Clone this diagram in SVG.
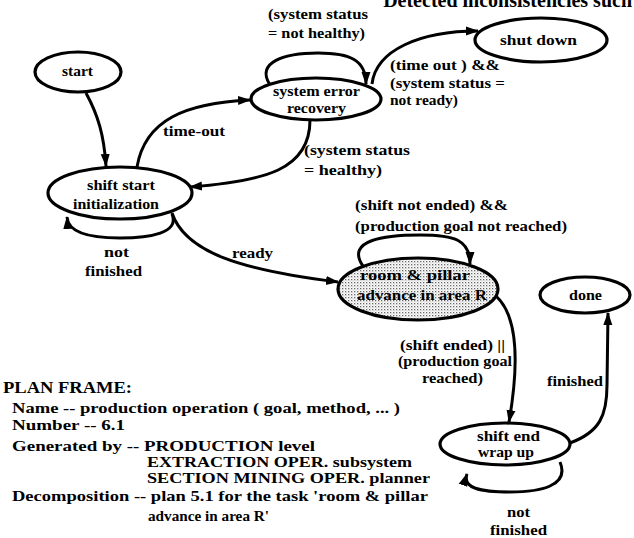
<svg xmlns="http://www.w3.org/2000/svg" width="634" height="538" viewBox="0 0 634 538" font-family="'Liberation Serif', 'DejaVu Serif', serif" font-weight="bold">
  <defs>
    <marker id="arrow" markerUnits="userSpaceOnUse" markerWidth="13" markerHeight="10" refX="12" refY="5" orient="auto">
      <path d="M0,0.5 L13,5 L0,9.5 z" fill="#000"/>
    </marker>
    <pattern id="stipple" width="3" height="3" patternUnits="userSpaceOnUse">
      <rect width="3" height="3" fill="#fff"/>
      <rect x="0" y="0" width="1.3" height="1.3" fill="#666"/>
      <rect x="1.5" y="1.5" width="1" height="1" fill="#aaa"/>
    </pattern>
    <style>
      text { font-family: 'Liberation Serif', 'DejaVu Serif', serif; font-weight: bold; fill: #000; }
      .lbl { font-size: 15.5px; }
      .state { fill: #fff; stroke: #000; stroke-width: 3.2; }
      .edge { fill: none; stroke: #000; stroke-width: 3; marker-end: url(#arrow); }
      .frame { font-size: 14.5px; }
    </style>
  </defs>

  <rect width="634" height="538" fill="#fff"/>

  <!-- running header line, cut off by the top edge -->
  <text x="632" y="7" font-size="20" text-anchor="end">Detected inconsistencies such</text>

  <!-- transitions -->
  <g id="connectors">
    <path class="edge" d="M86,93 C98,115 104,135 106,166"/>
    <path class="edge" d="M137,167 C145,120 185,103 250,100"/>
    <path class="edge" d="M310,120 C310,170 265,181 190,187"/>
    <path class="edge" d="M270,85 C255,62 285,53 318,53 C350,53 366,60 366,84"/>
    <path class="edge" d="M372,84 C376,50 420,31 478,31"/>
    <path class="edge" d="M172,214 C180,233 150,238 120,238 C90,238 68,233 67,217"/>
    <path class="edge" d="M172,213 C185,252 240,270 338,282"/>
    <path class="edge" d="M363,266 C345,240 385,235 420,235 C455,235 470,240 470,264"/>
    <path class="edge" d="M496,296 C520,318 518,370 509,422"/>
    <path class="edge" d="M560,462 C570,486 540,492 510,492 C480,492 462,488 467,474"/>
    <path class="edge" d="M570,443 C600,432 607,415 607,385 L608,313"/>
  </g>

  <!-- transition labels -->
  <g id="edge-labels" class="lbl">
    <text x="163" y="136" textLength="62" lengthAdjust="spacingAndGlyphs">time-out</text>
    <text x="268" y="19" textLength="100" lengthAdjust="spacingAndGlyphs">(system status</text>
    <text x="268" y="38" textLength="97" lengthAdjust="spacingAndGlyphs">= not healthy)</text>
    <text x="390" y="70" textLength="110" lengthAdjust="spacingAndGlyphs">(time out ) &amp;&amp;</text>
    <text x="390" y="88" textLength="115" lengthAdjust="spacingAndGlyphs">(system status =</text>
    <text x="390" y="105" textLength="68" lengthAdjust="spacingAndGlyphs">not ready)</text>
    <text x="304" y="155" textLength="106" lengthAdjust="spacingAndGlyphs">(system status</text>
    <text x="304" y="175" textLength="78" lengthAdjust="spacingAndGlyphs">= healthy)</text>
    <text x="104" y="257" textLength="25" lengthAdjust="spacingAndGlyphs">not</text>
    <text x="85" y="276" textLength="57" lengthAdjust="spacingAndGlyphs">finished</text>
    <text x="232" y="258" textLength="41" lengthAdjust="spacingAndGlyphs">ready</text>
    <text x="355" y="210" textLength="153" lengthAdjust="spacingAndGlyphs">(shift not ended) &amp;&amp;</text>
    <text x="355" y="231" textLength="212" lengthAdjust="spacingAndGlyphs">(production goal not reached)</text>
    <text x="400" y="350" textLength="105" lengthAdjust="spacingAndGlyphs">(shift ended) ||</text>
    <text x="398" y="366" textLength="114" lengthAdjust="spacingAndGlyphs">(production goal</text>
    <text x="422" y="383" textLength="61" lengthAdjust="spacingAndGlyphs">reached)</text>
    <text x="547" y="386" textLength="56" lengthAdjust="spacingAndGlyphs">finished</text>
    <text x="507" y="517" textLength="23" lengthAdjust="spacingAndGlyphs">not</text>
    <text x="490" y="535" textLength="57" lengthAdjust="spacingAndGlyphs">finished</text>
  </g>

  <!-- states -->
  <g id="start" class="lbl">
    <ellipse class="state" cx="78" cy="72" rx="43" ry="20"/>
    <text x="62" y="76" textLength="31" lengthAdjust="spacingAndGlyphs">start</text>
  </g>
  <g id="system-error-recovery" class="lbl">
    <ellipse class="state" cx="316" cy="99" rx="65" ry="21"/>
    <text x="273" y="96" textLength="87" lengthAdjust="spacingAndGlyphs">system error</text>
    <text x="287" y="113" textLength="59" lengthAdjust="spacingAndGlyphs">recovery</text>
  </g>
  <g id="shut-down" class="lbl">
    <ellipse class="state" cx="541" cy="40" rx="66" ry="22"/>
    <text x="500" y="45" textLength="77" lengthAdjust="spacingAndGlyphs">shut down</text>
  </g>
  <g id="shift-start-initialization" class="lbl">
    <ellipse class="state" cx="120" cy="193" rx="72" ry="26"/>
    <text x="87" y="190" textLength="68" lengthAdjust="spacingAndGlyphs">shift start</text>
    <text x="73" y="209" textLength="86" lengthAdjust="spacingAndGlyphs">initialization</text>
  </g>
  <g id="room-and-pillar" class="lbl">
    <ellipse class="state" cx="418" cy="289" rx="80" ry="31" style="fill:url(#stipple)"/>
    <text x="360" y="280" textLength="110" lengthAdjust="spacingAndGlyphs">room &amp; pillar</text>
    <text x="357" y="300" textLength="130" lengthAdjust="spacingAndGlyphs">advance in area R</text>
  </g>
  <g id="done" class="lbl">
    <ellipse class="state" cx="585" cy="295" rx="45" ry="18"/>
    <text x="569" y="300" textLength="33" lengthAdjust="spacingAndGlyphs">done</text>
  </g>
  <g id="shift-end-wrap-up" class="lbl">
    <ellipse class="state" cx="505" cy="444" rx="65" ry="21"/>
    <text x="477" y="441" textLength="63" lengthAdjust="spacingAndGlyphs">shift end</text>
    <text x="478" y="457" textLength="56" lengthAdjust="spacingAndGlyphs">wrap up</text>
  </g>

  <!-- plan frame description -->
  <g id="plan-frame" class="frame">
    <text x="3" y="393" font-size="16" textLength="129" lengthAdjust="spacingAndGlyphs">PLAN FRAME:</text>
    <text x="12" y="413" textLength="388" lengthAdjust="spacingAndGlyphs">Name -- production operation ( goal, method, ... )</text>
    <text x="12" y="430" textLength="113" lengthAdjust="spacingAndGlyphs">Number -- 6.1</text>
    <text x="12" y="451" textLength="303" lengthAdjust="spacingAndGlyphs">Generated by -- PRODUCTION  level</text>
    <text x="147" y="467" textLength="265" lengthAdjust="spacingAndGlyphs">EXTRACTION OPER. subsystem</text>
    <text x="147" y="483" textLength="283" lengthAdjust="spacingAndGlyphs">SECTION MINING OPER. planner</text>
    <text x="12" y="501" textLength="416" lengthAdjust="spacingAndGlyphs">Decomposition -- plan 5.1 for the task 'room &amp; pillar</text>
    <text x="148" y="521" textLength="121" lengthAdjust="spacingAndGlyphs">advance  in area R'</text>
  </g>
</svg>
